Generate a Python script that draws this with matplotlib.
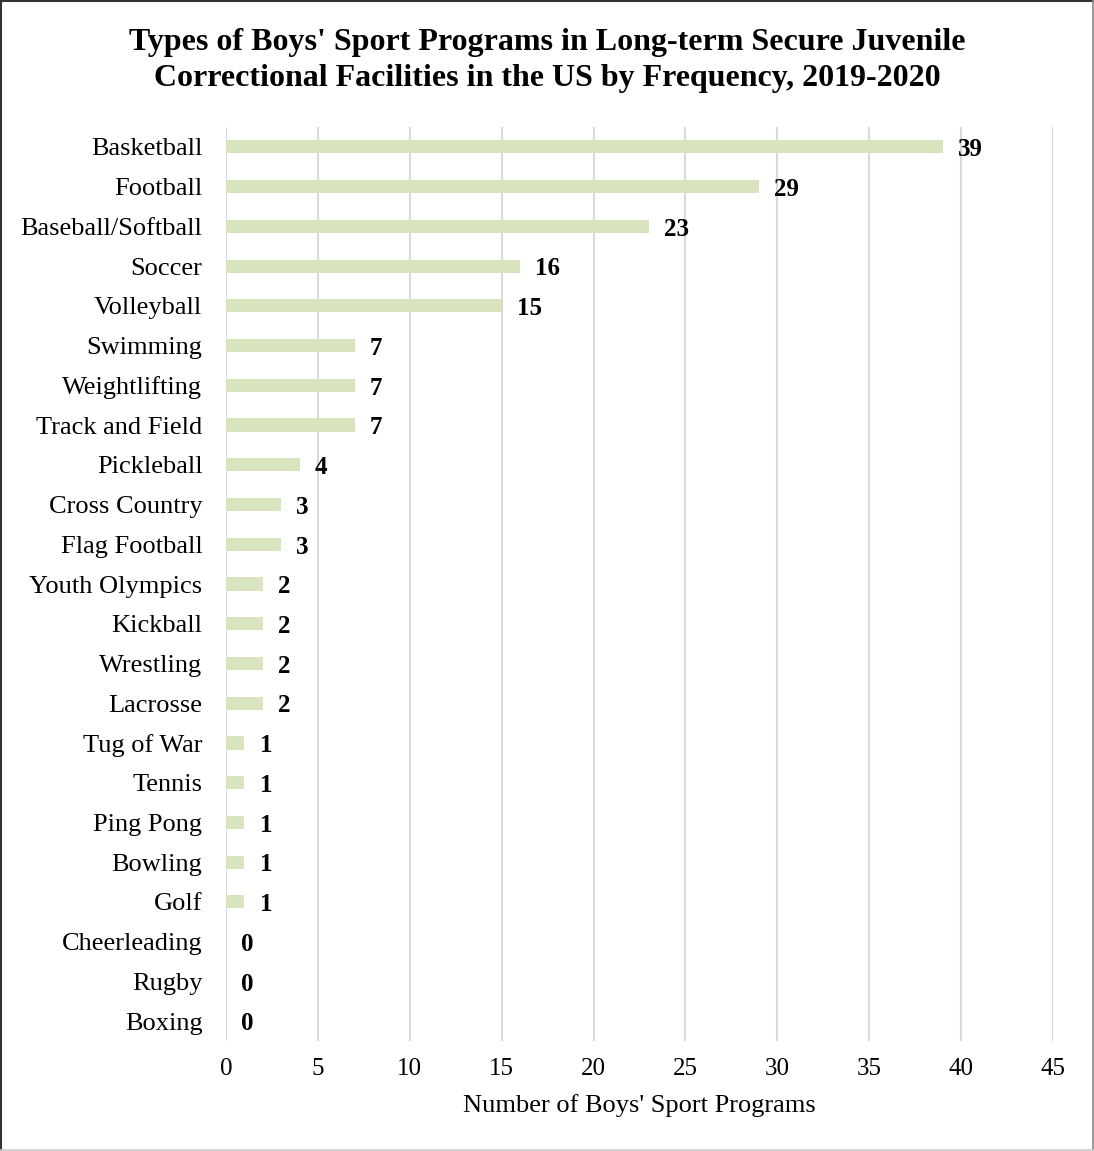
import matplotlib
matplotlib.use("Agg")
import matplotlib.pyplot as plt
from matplotlib.lines import Line2D

categories = ["Basketball", "Football", "Baseball/Softball", "Soccer", "Volleyball",
              "Swimming", "Weightlifting", "Track and Field", "Pickleball", "Cross Country",
              "Flag Football", "Youth Olympics", "Kickball", "Wrestling", "Lacrosse",
              "Tug of War", "Tennis", "Ping Pong", "Bowling", "Golf",
              "Cheerleading", "Rugby", "Boxing"]
values = [39, 29, 23, 16, 15, 7, 7, 7, 4, 3, 3, 2, 2, 2, 2, 1, 1, 1, 1, 1, 0, 0, 0]
xticks = [0, 5, 10, 15, 20, 25, 30, 35, 40, 45]

plt.rcParams['font.family'] = ['Liberation Serif', 'DejaVu Serif']

fig = plt.figure(figsize=(10.94, 11.51), dpi=100)
ax = fig.add_axes([226/1094, 1 - 1041/1151, (1053-226)/1094, (1041-127)/1151])

y = list(range(len(categories)))
ax.barh(y, values, height=0.33, color="#D7E4BD", zorder=2)
ax.set_ylim(len(categories) - 0.5, -0.5)
ax.set_xlim(0, 45)
ax.set_xticks(xticks)
ax.set_xticklabels([str(t) for t in xticks], fontsize=18)
ax.set_yticks(y)
ax.set_yticklabels(categories, fontsize=19)
ax.tick_params(axis='both', length=0, colors='black')
ax.tick_params(axis='y', pad=17)
ax.tick_params(axis='x', pad=12)
ax.grid(axis='x', color='#d9d9d9', linewidth=1.5, zorder=0)
for s in ax.spines.values():
    s.set_visible(False)

for yi, v in zip(y, values):
    ax.annotate(str(v), xy=(v, yi), xytext=(11.0, -2.0), textcoords='offset points',
                ha='left', va='center', fontsize=18, fontweight='bold')

ax.set_xlabel("Number of Boys' Sport Programs", fontsize=19, labelpad=10)

fig.text(0.5, 1 - 60.5/1151, "Types of Boys' Sport Programs in Long-term Secure Juvenile\nCorrectional Facilities in the US by Frequency, 2019-2020",
         ha='center', va='center', fontsize=23, fontweight='bold', linespacing=1.33)

# figure border: dark left/top, light right/bottom
e = 0.0008
fig.lines.append(Line2D([e, e], [0, 1], transform=fig.transFigure, color='#333333', linewidth=1.5))
fig.lines.append(Line2D([0, 1], [1 - e, 1 - e], transform=fig.transFigure, color='#333333', linewidth=1.5))
fig.lines.append(Line2D([1 - e, 1 - e], [0, 1], transform=fig.transFigure, color='#888888', linewidth=1.2))
fig.lines.append(Line2D([0, 1], [e, e], transform=fig.transFigure, color='#cccccc', linewidth=1.2))

fig.savefig("out.png", dpi=100)
